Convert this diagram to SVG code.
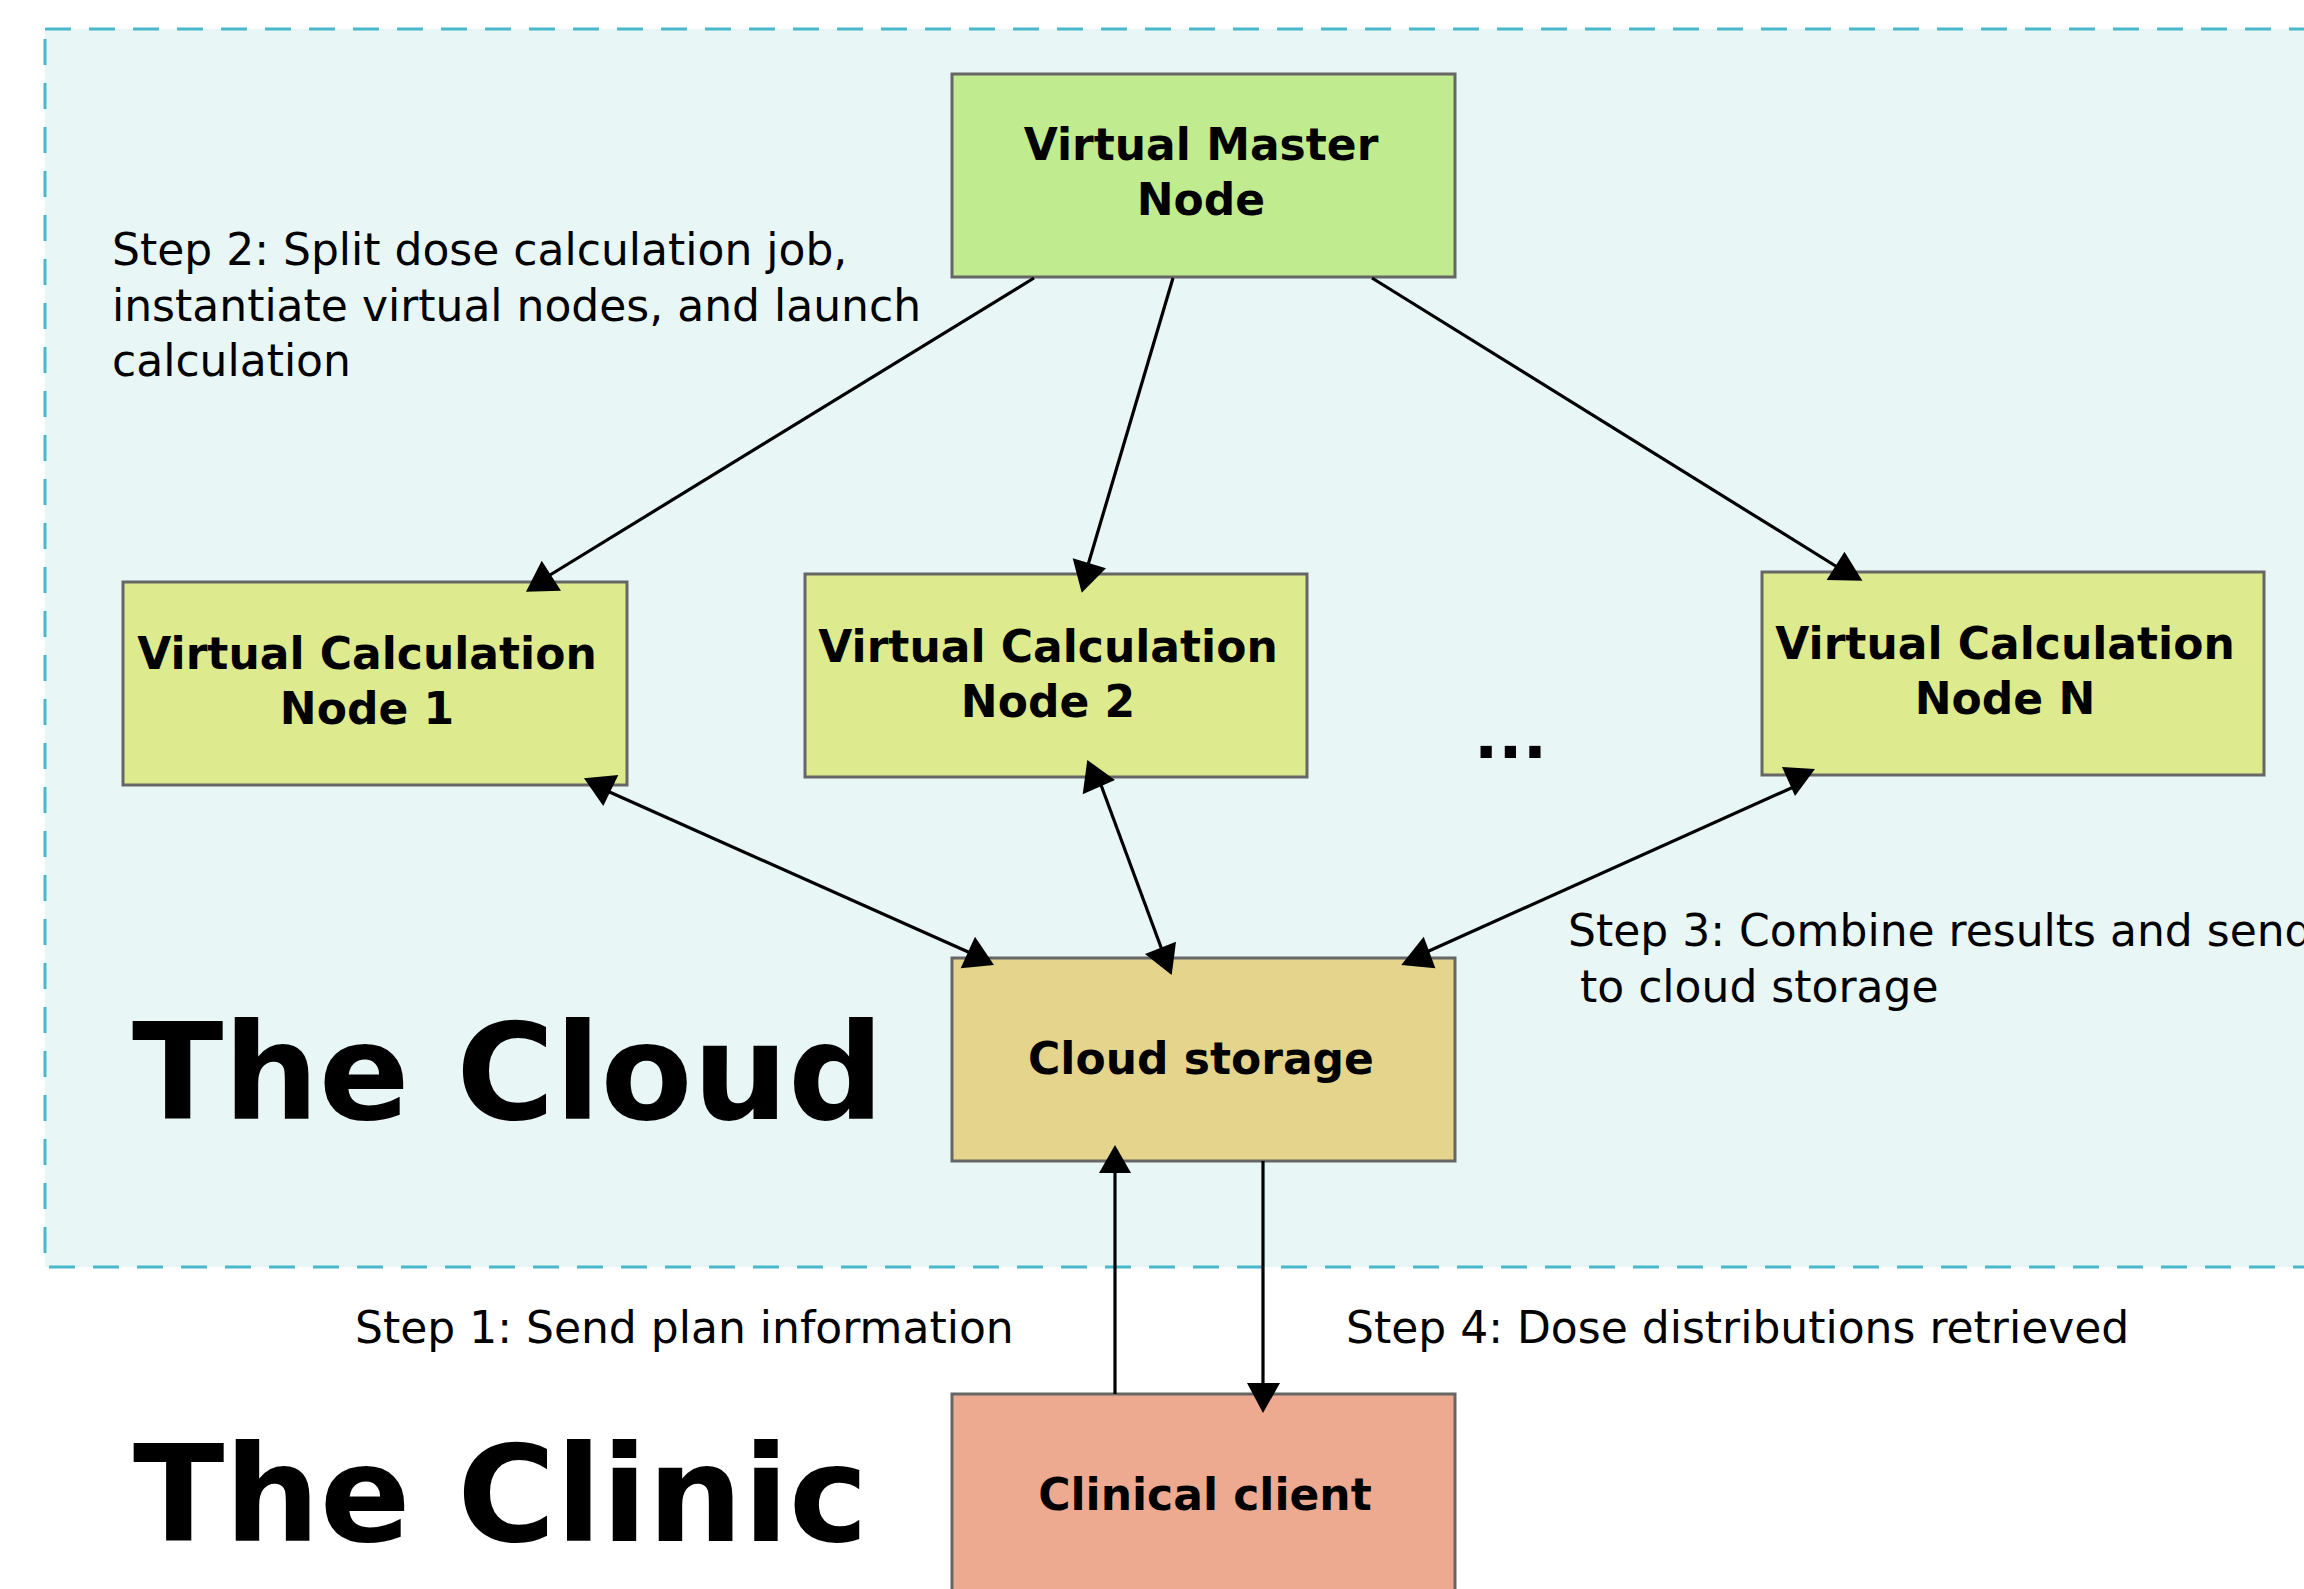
<svg xmlns="http://www.w3.org/2000/svg" width="2304" height="1589" viewBox="0 0 2304 1589">
<style>
.box{stroke:#666666;stroke-width:3}
.lbl{font-family:"DejaVu Sans",sans-serif;font-weight:bold;font-size:44px;fill:#000;text-anchor:middle}
.txt{font-family:"DejaVu Sans",sans-serif;font-size:44px;fill:#000}
.big{font-family:"DejaVu Sans",sans-serif;font-weight:bold;font-size:134px;fill:#000}
.ln{stroke:#000;stroke-width:3.2;fill:none}
.ah{fill:#000;stroke:none}
</style>
<rect width="2304" height="1589" fill="#ffffff"/>
<g id="cloud-region">
<rect x="45" y="29" width="2300" height="1238" fill="#e8f6f6" stroke="#4ab8cc" stroke-width="3" stroke-dasharray="26 18"/>
</g>
<g id="master">
<rect class="box" x="952" y="74" width="503" height="203" fill="#c0eb8e"/>
<text class="lbl" x="1201" y="160">Virtual Master</text>
<text class="lbl" x="1201" y="215">Node</text>
</g>
<g id="node1">
<rect class="box" x="123" y="582" width="504" height="203" fill="#deea8e"/>
<text class="lbl" x="367" y="669">Virtual Calculation</text>
<text class="lbl" x="367" y="724">Node 1</text>
</g>
<g id="node2">
<rect class="box" x="805" y="574" width="502" height="203" fill="#deea8e"/>
<text class="lbl" x="1048" y="662">Virtual Calculation</text>
<text class="lbl" x="1048" y="717">Node 2</text>
</g>
<g id="nodeN">
<rect class="box" x="1762" y="572" width="502" height="203" fill="#deea8e"/>
<text class="lbl" x="2005" y="659">Virtual Calculation</text>
<text class="lbl" x="2005" y="714">Node N</text>
</g>
<g id="storage">
<rect class="box" x="952" y="958" width="503" height="203" fill="#e4d48c"/>
<text class="lbl" x="1201" y="1074">Cloud storage</text>
</g>
<g id="client">
<rect class="box" x="952" y="1394" width="503" height="210" fill="#eeaa90"/>
<text class="lbl" x="1205" y="1510">Clinical client</text>
</g>
<g id="ellipsis">
<text x="1474" y="758" style="font-family:'DejaVu Sans',sans-serif;font-weight:bold;font-size:64px">...</text>
</g>
<g id="labels">
<text class="txt" x="112" y="265">Step 2: Split dose calculation job,</text>
<text class="txt" x="112" y="321">instantiate virtual nodes, and launch</text>
<text class="txt" x="112" y="376">calculation</text>
<text class="txt" x="1568" y="946">Step 3: Combine results and send</text>
<text class="txt" x="1580" y="1002">to cloud storage</text>
<text class="txt" x="355" y="1343">Step 1: Send plan information</text>
<text class="txt" x="1346" y="1343">Step 4: Dose distributions retrieved</text>
<text class="big" x="132" y="1119">The Cloud</text>
<text class="big" x="133" y="1541">The Clinic</text>
</g>
<g id="connectors">
<line class="ln" x1="1034" y1="278" x2="550" y2="575"/>
<polygon class="ah" points="541.7,560.7 526,591.7 561,590.7"/>
<line class="ln" x1="1173" y1="278" x2="1088" y2="565"/>
<polygon class="ah" points="1072.7,558.3 1106,568.3 1081.7,592.7"/>
<line class="ln" x1="1372" y1="278" x2="1842" y2="570"/>
<polygon class="ah" points="1844.5,551.7 1826.6,580 1862.4,580.7"/>
<line class="ln" x1="605" y1="790" x2="975" y2="955"/>
<polygon class="ah" points="584,778.3 618.3,775 603.3,806"/>
<polygon class="ah" points="975,936.7 960.7,968.3 994,965"/>
<line class="ln" x1="1101" y1="785" x2="1162" y2="950"/>
<polygon class="ah" points="1087.3,760 1115,780 1082.7,794.3"/>
<polygon class="ah" points="1145,954 1176,941.7 1171.7,975"/>
<line class="ln" x1="1798" y1="785" x2="1420" y2="955"/>
<polygon class="ah" points="1782,767 1815,769 1795,796"/>
<polygon class="ah" points="1423.7,936.7 1401.3,965 1435.4,968.3"/>
<line class="ln" x1="1115" y1="1394" x2="1115" y2="1170"/>
<polygon class="ah" points="1115,1145 1099,1173 1131,1173"/>
<line class="ln" x1="1263" y1="1161" x2="1263" y2="1385"/>
<polygon class="ah" points="1247,1383 1280,1383 1263,1413"/>
</g>
</svg>
